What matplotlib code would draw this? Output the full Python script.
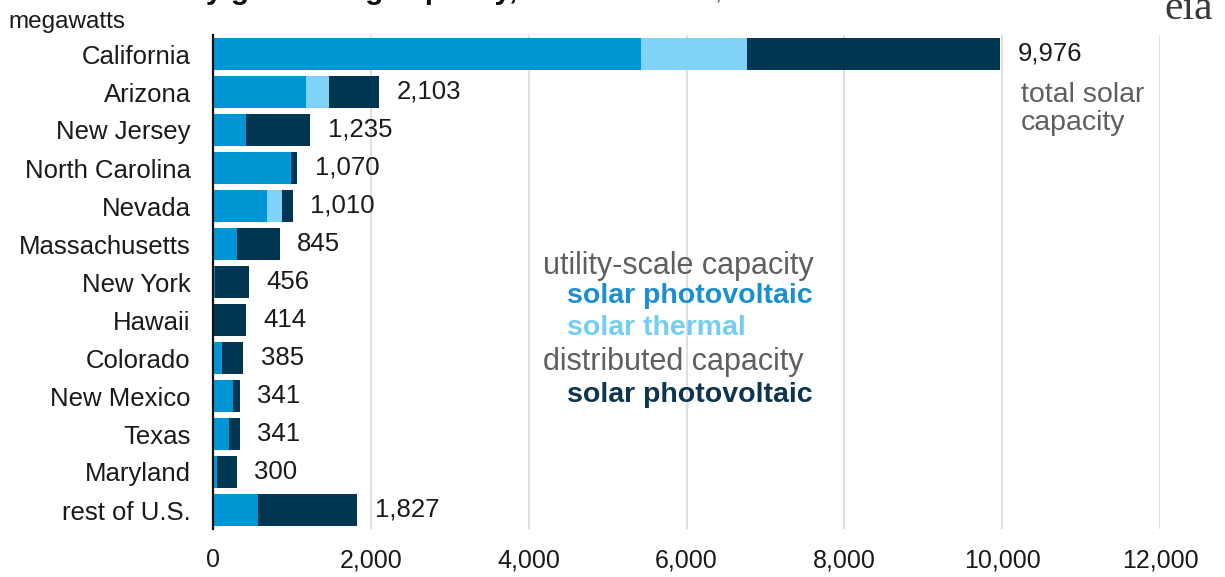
import matplotlib
matplotlib.use("Agg")
import matplotlib.pyplot as plt
import numpy as np

# solar capacity by state, megawatts
states = ["California", "Arizona", "New Jersey", "North Carolina", "Nevada",
          "Massachusetts", "New York", "Hawaii", "Colorado", "New Mexico",
          "Texas", "Maryland", "rest of U.S."]
utility_pv = [5425, 1175, 414, 985, 688, 300, 20, 15, 110, 250, 205, 55, 575]
utility_thermal = [1343, 300, 0, 0, 190, 0, 0, 0, 0, 0, 0, 0, 0]
total_capacity = [9976, 2103, 1235, 1070, 1010, 845, 456, 414, 385, 341, 341, 300, 1827]
x_ticks = [0, 2000, 4000, 6000, 8000, 10000, 12000]

PV_BLUE = "#0096d6"
THERMAL_BLUE = "#80d2f6"
DIST_NAVY = "#003652"
GRAY = "#5f5f5f"
TEXT = "#1a1a1a"

plt.rcParams["font.family"] = ["Liberation Sans", "DejaVu Sans"]

pv = np.array(utility_pv)
th = np.array(utility_thermal)
tot = np.array(total_capacity)
dist = tot - pv - th
y = np.arange(len(states))

fig = plt.figure(figsize=(12.25, 5.77), dpi=100)
ax = fig.add_axes([213 / 1225, 1 - 529 / 577, 947 / 1225, 494 / 577])

ax.barh(y, pv, height=0.84, color=PV_BLUE, zorder=3)
ax.barh(y, th, left=pv, height=0.84, color=THERMAL_BLUE, zorder=3)
ax.barh(y, dist, left=pv + th, height=0.84, color=DIST_NAVY, zorder=3)

for i, t in enumerate(tot):
    ax.annotate(f"{t:,}", (t, i), xytext=(12.5, 0), textcoords="offset points",
                va="center", ha="left", fontsize=18.5, color=TEXT)

ax.set_xlim(0, 12000)
ax.set_ylim(len(states) - 0.5, -0.5)
ax.set_yticks(y)
ax.set_yticklabels(states)
ax.set_xticks(x_ticks)
ax.set_xticklabels([f"{v:,}" for v in x_ticks])
ax.tick_params(axis="y", length=0, pad=16, labelsize=18.5, labelcolor=TEXT)
ax.tick_params(axis="x", length=0, pad=14, labelsize=18, labelcolor=TEXT)

ax.grid(axis="x", color="#d9d9d9", linewidth=1.2, zorder=0)
for side in ["top", "right", "bottom"]:
    ax.spines[side].set_visible(False)
ax.spines["left"].set_color("#111111")
ax.spines["left"].set_linewidth(1.6)
ax.spines["left"].set_zorder(4)

# note beside the California total
ax.text(10240, 1.45, "total solar\ncapacity", fontsize=20.5, color=GRAY,
        va="center", ha="left", linespacing=1.1)

# inline legend
ax.text(4180, 5.58, "utility-scale capacity", fontsize=22, color=GRAY, va="center")
ax.text(4490, 6.37, "solar photovoltaic", fontsize=20.5, color="#1a8fd2",
        fontweight="bold", va="center")
ax.text(4490, 7.21, "solar thermal", fontsize=20.5, color="#74cdf4",
        fontweight="bold", va="center")
ax.text(4180, 8.11, "distributed capacity", fontsize=22, color=GRAY, va="center")
ax.text(4490, 8.97, "solar photovoltaic", fontsize=20.5, color="#0d3550",
        fontweight="bold", va="center")

# title runs off the top edge
fig.text(0.0, 1 + 1 / 577, "Solar electricity generating capacity,", fontsize=21.5,
         fontweight="bold", color="#111111", va="baseline")
fig.text(530 / 1225, 1 + 1 / 577, "selected states, end of 2014", fontsize=20,
         color=GRAY, va="baseline")
fig.text(8 / 1225, 1 - 28 / 577, "megawatts", fontsize=17.5, color=TEXT, va="baseline")

fig.text(1164 / 1225, 1 - 19 / 577, "eia", family=["Liberation Serif", "DejaVu Serif"],
         fontsize=30, color="#3a3a3a", va="baseline")
fig.text(1214 / 1225, 1 - 6 / 577, "\u2019", fontsize=16, color="#1aa0e0",
         fontweight="bold", va="baseline")

fig.savefig("out.png", dpi=100, facecolor="white")
